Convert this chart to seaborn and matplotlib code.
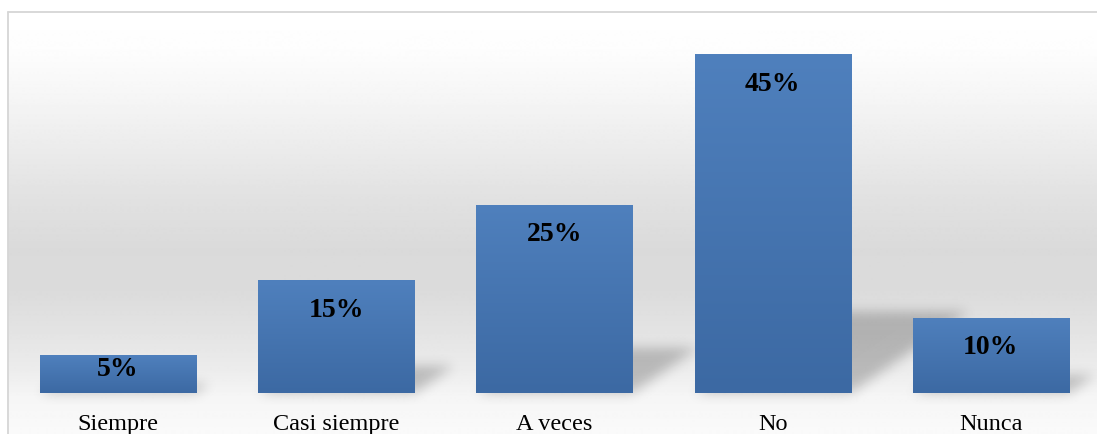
import numpy as np
import pandas as pd
import matplotlib
matplotlib.use("Agg")
import matplotlib.pyplot as plt
import seaborn as sns
from matplotlib.lines import Line2D
from matplotlib.patches import Polygon
from matplotlib.colors import LinearSegmentedColormap

# ---- data ----
categories = ["Siempre", "Casi siempre", "A veces", "No", "Nunca"]
values = [5, 15, 25, 45, 10]
labels = ["5%", "15%", "25%", "45%", "10%"]

sns.set_theme(style="white")
plt.rcParams["font.family"] = ["Liberation Serif", "DejaVu Serif"]

W, H, DPI = 1097, 434, 100
fig = plt.figure(figsize=(W / DPI, H / DPI), dpi=DPI)
fig.patch.set_facecolor("white")

# ---- background gradient (chart area) ----
bg = fig.add_axes([8 / W, 0, 1 - 8 / W, (H - 12) / H], zorder=0)
stops_y = np.array([12, 50, 100, 150, 200, 250, 290, 330, 370, 395, 434])
stops_g = np.array([255, 253, 245, 235, 225, 218, 219, 227, 236, 245, 250]) / 255
yy = np.arange(12, 435)
grad = np.interp(yy, stops_y, stops_g)
bg.imshow(np.repeat(grad[:, None], 2, axis=1), cmap="gray", vmin=0, vmax=1,
          aspect="auto", extent=[0, 1, 0, 1], interpolation="bilinear")
bg.set_axis_off()
bcol = "#d6d6d6"
fig.add_artist(Line2D([8 / W, 8 / W], [0, (H - 12) / H], transform=fig.transFigure,
                      color=bcol, lw=1.3))
fig.add_artist(Line2D([8 / W, 1], [(H - 12) / H, (H - 12) / H], transform=fig.transFigure,
                      color=bcol, lw=1.3))

# ---- main axes ----
ax = fig.add_axes([9 / W, 41 / H, 1091 / W, 381 / H], zorder=1)
ax.patch.set_alpha(0)
df = pd.DataFrame({"cat": categories, "val": values})
sns.barplot(data=df, x="cat", y="val", width=0.715, color="#4a7ab5",
            saturation=1, ax=ax, zorder=3)
ax.set_xlim(-0.5, 4.5)
ax.set_ylim(0, 50.6)
for s in ax.spines.values():
    s.set_visible(False)
ax.set_yticks([])
ax.set_xlabel("")
ax.set_ylabel("")
ax.tick_params(axis="x", length=0, pad=15, labelsize=17.5, labelcolor="black")
for t in ax.get_xticklabels():
    t.set_fontfamily(["Liberation Serif"])


def blur_filter(sigma):
    def f(im, dpi):
        pad = int(3 * sigma) + 2
        p = np.pad(im, [(pad, pad), (pad, pad), (0, 0)], "constant")
        x = np.arange(-int(3 * sigma), int(3 * sigma) + 1)
        k = np.exp(-x ** 2 / (2 * sigma ** 2))
        k /= k.sum()
        a = p[:, :, 3]
        a = np.apply_along_axis(lambda r: np.convolve(r, k, mode="same"), 0, a)
        a = np.apply_along_axis(lambda r: np.convolve(r, k, mode="same"), 1, a)
        out = np.zeros_like(p)
        out[:, :, 3] = a
        return out, -pad, -pad
    return f


bar_cmap = LinearSegmentedColormap.from_list("bar", ["#3c69a3", "#4f80bd"])
patches = list(ax.patches)
for patch in patches:
    x0 = patch.get_x()
    w = patch.get_width()
    h = patch.get_height()
    # perspective shadow
    k, s = 0.24, 0.012 * h
    shadow = Polygon([(x0, 0), (x0 + w, 0), (x0 + w + s, k * h), (x0 + s, k * h)],
                     closed=True, facecolor="black", edgecolor="none",
                     alpha=0.22, zorder=2)
    shadow.set_agg_filter(blur_filter(6))
    ax.add_patch(shadow)
    # gradient fill
    patch.set_facecolor("none")
    patch.set_edgecolor("none")
    g = np.linspace(0, 1, 256)[:, None]
    im = ax.imshow(g, cmap=bar_cmap, vmin=0, vmax=1, origin="lower", aspect="auto",
                   extent=[x0, x0 + w, 0, h], zorder=3, interpolation="bilinear")
    im.set_clip_path(patch)

ax.set_xlim(-0.5, 4.5)
ax.set_ylim(0, 50.6)
ax.set_aspect("auto")

# value labels
px_per_unit = (ax.transData.transform((0, 1))[1] - ax.transData.transform((0, 0))[1])
for patch, lab in zip(patches, labels):
    h = patch.get_height()
    hpx = h * px_per_unit
    off_px = min(30, hpx / 2 - 5)
    ax.annotate(lab, (patch.get_x() + patch.get_width() / 2, h),
                xytext=(0, -off_px * 72 / DPI), textcoords="offset points",
                ha="center", va="center", fontsize=20, fontweight="bold",
                color="black", zorder=5, family=["Liberation Serif"])

fig.savefig("out.png", dpi=DPI)
